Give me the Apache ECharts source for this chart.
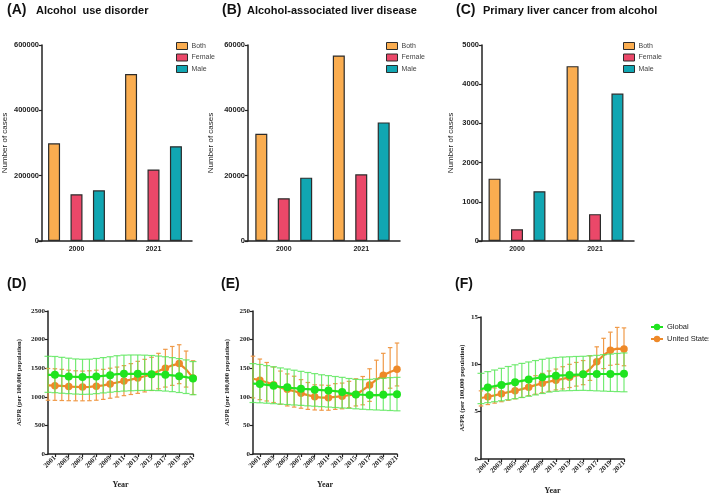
<!DOCTYPE html>
<html>
<head>
<meta charset="utf-8">
<script src="https://cdn.jsdelivr.net/npm/echarts@6/dist/echarts.min.js"></script>
<style>
html, body { margin: 0; padding: 0; background: #fff; }
#main { width: 709px; height: 496px; }
</style>
</head>
<body>
<div id="main"></div>
<script>
// 上排柱状图：2000 / 2021 病例数
var barYears = ['2000', '2021'];
var audBoth = [299000, 511000];
var audFemale = [143000, 219000];
var audMale = [155000, 290000];
var aldBoth = [32800, 56800];
var aldFemale = [13100, 20400];
var aldMale = [19400, 36300];
var plcBoth = [1590, 4460];
var plcFemale = [300, 685];
var plcMale = [1270, 3760];

// 下排折线图：年份
var years = ['2000', '2001', '2002', '2003', '2004', '2005', '2006', '2007', '2008', '2009', '2010',
  '2011', '2012', '2013', '2014', '2015', '2016', '2017', '2018', '2019', '2020', '2021'];

// (D) 酒精使用障碍 ASPR
var dGlobal = [1384, 1384, 1367, 1355, 1350, 1344, 1344, 1355, 1367, 1378, 1396, 1402, 1402, 1402, 1402, 1396, 1396, 1384, 1373, 1361, 1344, 1320];
var dGlobalLo = [1078, 1072, 1062, 1055, 1048, 1043, 1045, 1055, 1068, 1080, 1092, 1100, 1106, 1110, 1112, 1112, 1108, 1100, 1090, 1075, 1058, 1037];
var dGlobalHi = [1708, 1705, 1690, 1675, 1662, 1656, 1658, 1670, 1685, 1700, 1718, 1728, 1731, 1731, 1728, 1722, 1712, 1700, 1685, 1668, 1645, 1616];
var dUS = [1200, 1195, 1190, 1180, 1175, 1170, 1175, 1185, 1200, 1225, 1250, 1275, 1300, 1330, 1360, 1390, 1450, 1500, 1550, 1580, 1480, 1330];
var dUSLo = [940, 938, 935, 932, 930, 930, 932, 940, 955, 975, 995, 1020, 1040, 1060, 1085, 1110, 1140, 1170, 1200, 1230, 1170, 1040];
var dUSHi = [1495, 1490, 1480, 1465, 1455, 1450, 1455, 1465, 1480, 1500, 1520, 1545, 1580, 1620, 1655, 1690, 1760, 1830, 1880, 1910, 1800, 1630];

// (E) 酒精相关肝病 ASPR
var eGlobal = [123, 122.5, 121, 119.5, 117.5, 116.5, 115, 114, 113.5, 112.5, 111.8, 111, 110, 108.5, 106, 104.2, 103.6, 103, 103, 103.5, 104, 104.5];
var eGlobalLo = [90, 89.5, 88.8, 88, 87.2, 86.5, 85.7, 85, 84.2, 83.5, 82.8, 82, 81.3, 80.5, 79.8, 79, 78.2, 77.5, 77, 76.5, 76, 75.5];
var eGlobalHi = [158, 156.5, 154.5, 152.5, 150.5, 148.5, 146.5, 144.5, 142.5, 140.5, 138.5, 137, 135.5, 134, 132, 130.5, 130, 130.5, 131.5, 132.5, 133.5, 134];
var eUS = [131.5, 129, 125.5, 121, 116, 113, 110, 106, 103, 100, 98.5, 98.5, 100, 101, 103, 104, 111.5, 120.5, 130, 137.5, 143.5, 148];
var eUSLo = [98, 95, 92.7, 90, 87, 84, 82, 80, 78, 77, 76.5, 76.5, 78, 79, 81, 84, 86, 92, 102, 109.5, 115, 119];
var eUSHi = [171, 166, 160, 152, 145, 140, 136, 130, 125, 121, 120.5, 120, 123, 124, 127, 131.5, 135.5, 149, 164, 176, 186, 194];

// (F) 酒精所致原发性肝癌 ASPR
var fGlobal = [7.38, 7.55, 7.69, 7.83, 7.97, 8.11, 8.25, 8.39, 8.53, 8.63, 8.73, 8.80, 8.84, 8.87, 8.91, 8.94, 8.98, 8.98, 8.98, 8.98, 8.97, 9.01];
var fGlobalLo = [5.85, 5.95, 6.05, 6.15, 6.26, 6.37, 6.5, 6.63, 6.77, 6.92, 7.07, 7.15, 7.2, 7.22, 7.24, 7.25, 7.23, 7.2, 7.17, 7.14, 7.12, 7.1];
var fGlobalHi = [9.05, 9.23, 9.4, 9.58, 9.77, 9.95, 10.1, 10.25, 10.4, 10.53, 10.65, 10.72, 10.77, 10.8, 10.83, 10.85, 10.9, 10.95, 11.02, 11.08, 11.15, 11.2];
var fUS = [6.44, 6.58, 6.72, 6.89, 7.06, 7.2, 7.38, 7.59, 7.8, 8.0, 8.18, 8.32, 8.46, 8.63, 8.8, 8.94, 9.5, 10.27, 10.96, 11.48, 11.66, 11.62];
var fUSLo = [5.6, 5.75, 5.9, 6.05, 6.2, 6.35, 6.5, 6.7, 6.85, 7.0, 7.15, 7.3, 7.4, 7.55, 7.7, 7.85, 8.3, 8.9, 9.55, 9.9, 10.0, 9.85];
var fUSHi = [7.2, 7.35, 7.5, 7.7, 7.9, 8.1, 8.3, 8.55, 8.8, 9.05, 9.3, 9.5, 9.75, 10.0, 10.2, 10.4, 10.9, 11.85, 12.75, 13.4, 13.9, 13.85];

var SANS = 'Liberation Sans, Arial, sans-serif';
var SERIF = 'Liberation Serif, Times New Roman, serif';
var C_BOTH = '#FAAD50', C_FEMALE = '#EB4869', C_MALE = '#11A6B2';
var C_GREEN = '#1FE41F', C_GREEN_ERR = 'rgba(90,232,90,0.85)';
var C_ORANGE = '#EE8928', C_ORANGE_ERR = '#F09A48';

// 每个面板一个 grid（上排 y 轴用 offset 往右挪一点）
var grids = [
  { left: 38, top: 45, width: 154, height: 196 },
  { left: 245, top: 45, width: 155, height: 196 },
  { left: 478, top: 45, width: 156, height: 196 },
  { left: 48, top: 311, width: 145, height: 143 },
  { left: 253, top: 311, width: 144, height: 143 },
  { left: 481, top: 317, width: 143, height: 144 }
];

function oddYear(idx) { return idx % 2 === 1; }
// 刻度不要千分位
function plain(v) { return String(v); }

function topX(i) {
  return {
    gridIndex: i, type: 'category', data: barYears,
    axisLine: { lineStyle: { color: '#222', width: 1.5 } },
    axisTick: { alignWithLabel: true, length: 3, lineStyle: { color: '#222', width: 1.2 } },
    axisLabel: { color: '#222', fontFamily: SANS, fontWeight: 'bold', fontSize: 7, margin: 5 }
  };
}
function topY(i, max, interval, gap, off) {
  return {
    gridIndex: i, type: 'value', min: 0, max: max, interval: interval, offset: off,
    name: 'Number of cases', nameLocation: 'middle', nameRotate: 90, nameGap: gap,
    nameTextStyle: { color: '#222', fontFamily: SANS, fontSize: 8 },
    axisLine: { show: true, lineStyle: { color: '#222', width: 1.5 } },
    axisTick: { show: true, length: 3, lineStyle: { color: '#222', width: 1.2 } },
    axisLabel: { formatter: plain, color: '#222', fontFamily: SANS, fontWeight: 'bold', fontSize: 7.5, margin: 3 },
    splitLine: { show: false }
  };
}
function bottomX(i, gap) {
  return {
    gridIndex: i, type: 'category', data: years, boundaryGap: false,
    name: 'Year', nameLocation: 'middle', nameGap: gap,
    nameTextStyle: { color: '#222', fontFamily: SERIF, fontWeight: 'bold', fontSize: 8 },
    axisLine: { lineStyle: { color: '#222', width: 1.5 } },
    axisTick: { interval: oddYear, length: 3, lineStyle: { color: '#222', width: 1.2 } },
    axisLabel: { interval: oddYear, rotate: 45, color: '#222', fontFamily: SERIF, fontWeight: 'bold', fontSize: 7, margin: 3 }
  };
}
function bottomY(i, max, interval, gap) {
  return {
    gridIndex: i, type: 'value', min: 0, max: max, interval: interval,
    name: 'ASPR (per 100,000 population)', nameLocation: 'middle', nameRotate: 90, nameGap: gap,
    nameTextStyle: { color: '#222', fontFamily: SERIF, fontWeight: 'bold', fontSize: 6.5 },
    axisLine: { show: true, lineStyle: { color: '#222', width: 1.5 } },
    axisTick: { show: true, length: 3, lineStyle: { color: '#222', width: 1.2 } },
    axisLabel: { formatter: plain, color: '#222', fontFamily: SERIF, fontWeight: 'bold', fontSize: 7, margin: 3 },
    splitLine: { show: false }
  };
}

function barSeries(name, data, color, i) {
  return {
    name: name, type: 'bar', xAxisIndex: i, yAxisIndex: i, data: data,
    barWidth: 12, barGap: '87%',
    itemStyle: { color: color, borderColor: '#2b2b2b', borderWidth: 1.2 }
  };
}
function lineSeries(name, data, color, size, i, z) {
  return {
    name: name, type: 'line', xAxisIndex: i, yAxisIndex: i, data: data, z: z,
    symbol: 'circle', symbolSize: size, showSymbol: true,
    lineStyle: { color: color, width: 2.2 }, itemStyle: { color: color }
  };
}
// 误差线（自定义系列）
function errSeries(lo, hi, color, capW, i, z) {
  return {
    type: 'custom', xAxisIndex: i, yAxisIndex: i, z: z, silent: true,
    data: lo.map(function (v, k) { return [k, v, hi[k]]; }),
    renderItem: function (params, api) {
      var top = api.coord([api.value(0), api.value(2)]);
      var bot = api.coord([api.value(0), api.value(1)]);
      var st = { stroke: color, lineWidth: 1.2 };
      return {
        type: 'group', children: [
          { type: 'line', shape: { x1: top[0], y1: top[1], x2: bot[0], y2: bot[1] }, style: st },
          { type: 'line', shape: { x1: top[0] - capW / 2, y1: top[1], x2: top[0] + capW / 2, y2: top[1] }, style: st },
          { type: 'line', shape: { x1: bot[0] - capW / 2, y1: bot[1], x2: bot[0] + capW / 2, y2: bot[1] }, style: st }
        ]
      };
    }
  };
}

function panelTitle(letter, text, x, y, tx) {
  var out = [{ text: letter, left: x, top: y, padding: 0,
    textStyle: { fontFamily: SANS, fontSize: 14, fontWeight: 'bold', color: '#111' } }];
  if (text) {
    out.push({ text: text, left: tx, top: y + 2, padding: 0,
      textStyle: { fontFamily: SANS, fontSize: 11, fontWeight: 'bold', color: '#111' } });
  }
  return out;
}

function barLegend(x) {
  return {
    left: x, top: 37, orient: 'vertical', itemWidth: 11, itemHeight: 7, itemGap: 3.5,
    data: ['Both', 'Female', 'Male'], icon: 'rect',
    itemStyle: { borderColor: '#2b2b2b', borderWidth: 1 },
    textStyle: { fontFamily: SANS, fontSize: 7, color: '#444', padding: [0, 0, 0, -1] }
  };
}

var myChart = echarts.init(document.getElementById('main'), null, { renderer: 'canvas' });

var option = {
  animation: false,
  backgroundColor: '#fff',
  title: [].concat(
    panelTitle('(A)', 'Alcohol  use disorder', 7, 3, 36),
    panelTitle('(B)', 'Alcohol-associated liver disease', 222, 3, 247),
    panelTitle('(C)', 'Primary liver cancer from alcohol', 456, 3, 483),
    panelTitle('(D)', null, 7, 277),
    panelTitle('(E)', null, 221, 277),
    panelTitle('(F)', null, 455, 277)
  ),
  legend: [
    barLegend(171), barLegend(381), barLegend(618),
    {
      left: 645, top: 318, orient: 'vertical', itemWidth: 12, itemHeight: 8, itemGap: 4,
      data: ['Global', 'United States'],
      textStyle: { fontFamily: SANS, fontSize: 7.5, color: '#222', padding: [0, 0, 0, -1] }
    }
  ],
  grid: grids,
  xAxis: [topX(0), topX(1), topX(2), bottomX(3, 27), bottomX(4, 27), bottomX(5, 28)],
  yAxis: [
    topY(0, 600000, 200000, 33, -4),
    topY(1, 60000, 20000, 33, -3),
    topY(2, 5000, 1000, 27, -4),
    bottomY(3, 2500, 500, 25),
    bottomY(4, 250, 50, 22),
    bottomY(5, 15, 5, 15)
  ],
  series: [
    barSeries('Both', audBoth, C_BOTH, 0),
    barSeries('Female', audFemale, C_FEMALE, 0),
    barSeries('Male', audMale, C_MALE, 0),
    barSeries('Both', aldBoth, C_BOTH, 1),
    barSeries('Female', aldFemale, C_FEMALE, 1),
    barSeries('Male', aldMale, C_MALE, 1),
    barSeries('Both', plcBoth, C_BOTH, 2),
    barSeries('Female', plcFemale, C_FEMALE, 2),
    barSeries('Male', plcMale, C_MALE, 2),

    errSeries(dUSLo, dUSHi, C_ORANGE_ERR, 4.5, 3, 2),
    lineSeries('United States', dUS, C_ORANGE, 7.5, 3, 3),
    errSeries(dGlobalLo, dGlobalHi, C_GREEN_ERR, 7, 3, 4),
    lineSeries('Global', dGlobal, C_GREEN, 8, 3, 5),

    errSeries(eUSLo, eUSHi, C_ORANGE_ERR, 4.5, 4, 2),
    lineSeries('United States', eUS, C_ORANGE, 7.5, 4, 3),
    errSeries(eGlobalLo, eGlobalHi, C_GREEN_ERR, 7, 4, 4),
    lineSeries('Global', eGlobal, C_GREEN, 8, 4, 5),

    errSeries(fUSLo, fUSHi, C_ORANGE_ERR, 4.5, 5, 2),
    lineSeries('United States', fUS, C_ORANGE, 7.5, 5, 3),
    errSeries(fGlobalLo, fGlobalHi, C_GREEN_ERR, 7, 5, 4),
    lineSeries('Global', fGlobal, C_GREEN, 8, 5, 5)
  ]
};
myChart.setOption(option);
</script>
</body>
</html>
